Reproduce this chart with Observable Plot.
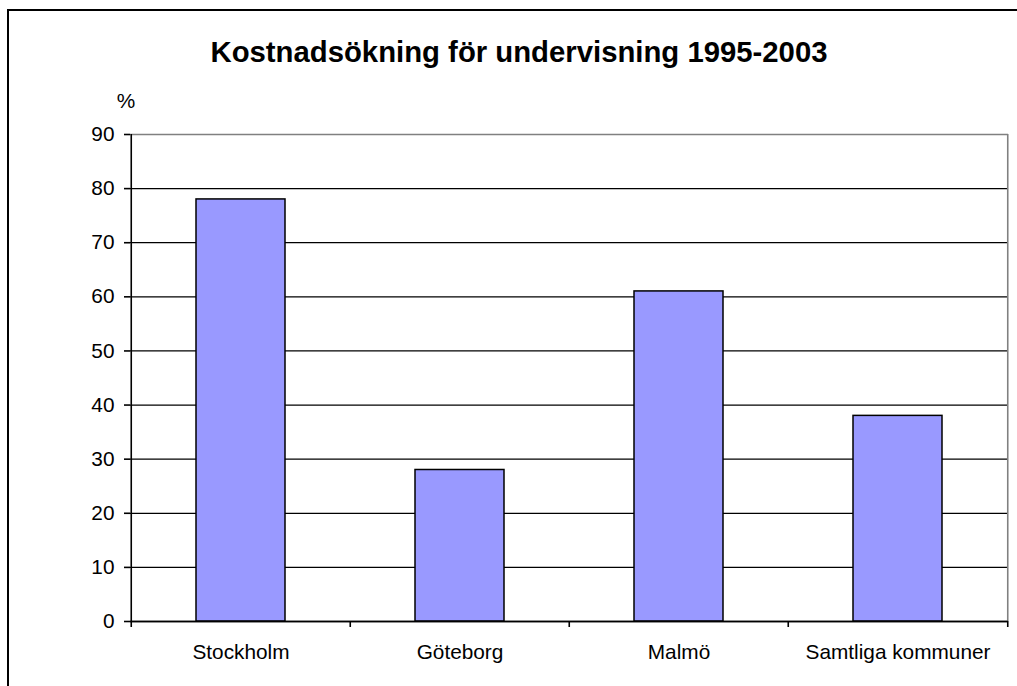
<!DOCTYPE html>
<html>
<head>
<meta charset="utf-8">
<script src="https://cdn.jsdelivr.net/npm/d3@7"></script>
<script src="https://cdn.jsdelivr.net/npm/@observablehq/plot@0.6"></script>
<style>
  body { margin: 0; background: #fff; font-family: "Liberation Sans", Arial, sans-serif; }
  #wrap { position: relative; width: 1017px; height: 686px; overflow: hidden; background: #fff; }
  #frame { position: absolute; left: 7px; top: 9px; width: 1200px; height: 900px; border: 2px solid #000; box-sizing: border-box; pointer-events: none; }
  #title { position: absolute; left: 0; top: 36px; width: 1038px; text-align: center; font: bold 29.3px/32px "Liberation Sans", Arial, sans-serif; color: #000; }
  #chart { position: absolute; left: 0; top: 80px; }
</style>
</head>
<body>
<div id="wrap">
  <div id="frame"></div>
  <div id="title">Kostnadsökning för undervisning 1995-2003</div>
  <div id="chart"></div>
</div>
<script>
const categories = ["Stockholm", "Göteborg", "Malmö", "Samtliga kommuner"];
const values = [78, 28, 61, 38];
const yTicks = [0, 10, 20, 30, 40, 50, 60, 70, 80, 90];
const yLabel = "%";

const data = categories.map((c, i) => ({category: c, value: values[i]}));

const W = 1017, H = 606, ML = 130, MR = 9, MT = 54, MB = 65;
const step = (W - ML - MR) / categories.length;
const last = categories[categories.length - 1];

const chart = Plot.plot({
  width: W,
  height: H,
  marginLeft: ML,
  marginRight: MR,
  marginTop: MT,
  marginBottom: MB,
  style: {fontFamily: "'Liberation Sans', Arial, sans-serif", fontSize: "20.8px", color: "#000", background: "transparent", overflow: "visible"},
  x: {domain: categories, paddingInner: 0.595, paddingOuter: 0.2975, label: null},
  y: {domain: [0, 90], label: null},
  marks: [
    Plot.ruleY(yTicks.filter(t => t < 90), {stroke: "#000", strokeWidth: 1.3}),
    Plot.ruleY([90], {stroke: "#808080", strokeWidth: 1.6}),
    Plot.ruleX([last], {dx: step / 2, stroke: "#808080", strokeWidth: 1.6}),
    Plot.barY(data, {x: "category", y: "value", fill: "#9999FF", stroke: "#000", strokeWidth: 1.5}),
    Plot.ruleY([0], {stroke: "#000", strokeWidth: 1.6}),
    Plot.ruleX([categories[0]], {dx: -step / 2, stroke: "#000", strokeWidth: 1.6}),
    Plot.ruleX(categories, {x: d => d, y1: 0, y2: 0, insetTop: 6, dx: -step / 2, stroke: "#000", strokeWidth: 1.6}),
    Plot.ruleX([last], {x: d => d, y1: 0, y2: 0, insetTop: 6, dx: step / 2, stroke: "#000", strokeWidth: 1.6}),
    Plot.axisY({ticks: yTicks, tickSize: 6, tickPadding: 10, label: null, strokeWidth: 1.6}),
    Plot.axisX({tickSize: 0, tickPadding: 23, label: null}),
    Plot.text([yLabel], {text: d => d, frameAnchor: "top-left", textAnchor: "middle", lineAnchor: "middle", dx: -4.5, dy: -33.5, fontSize: 20.8})
  ]
});
document.getElementById("chart").appendChild(chart);
</script>
</body>
</html>
